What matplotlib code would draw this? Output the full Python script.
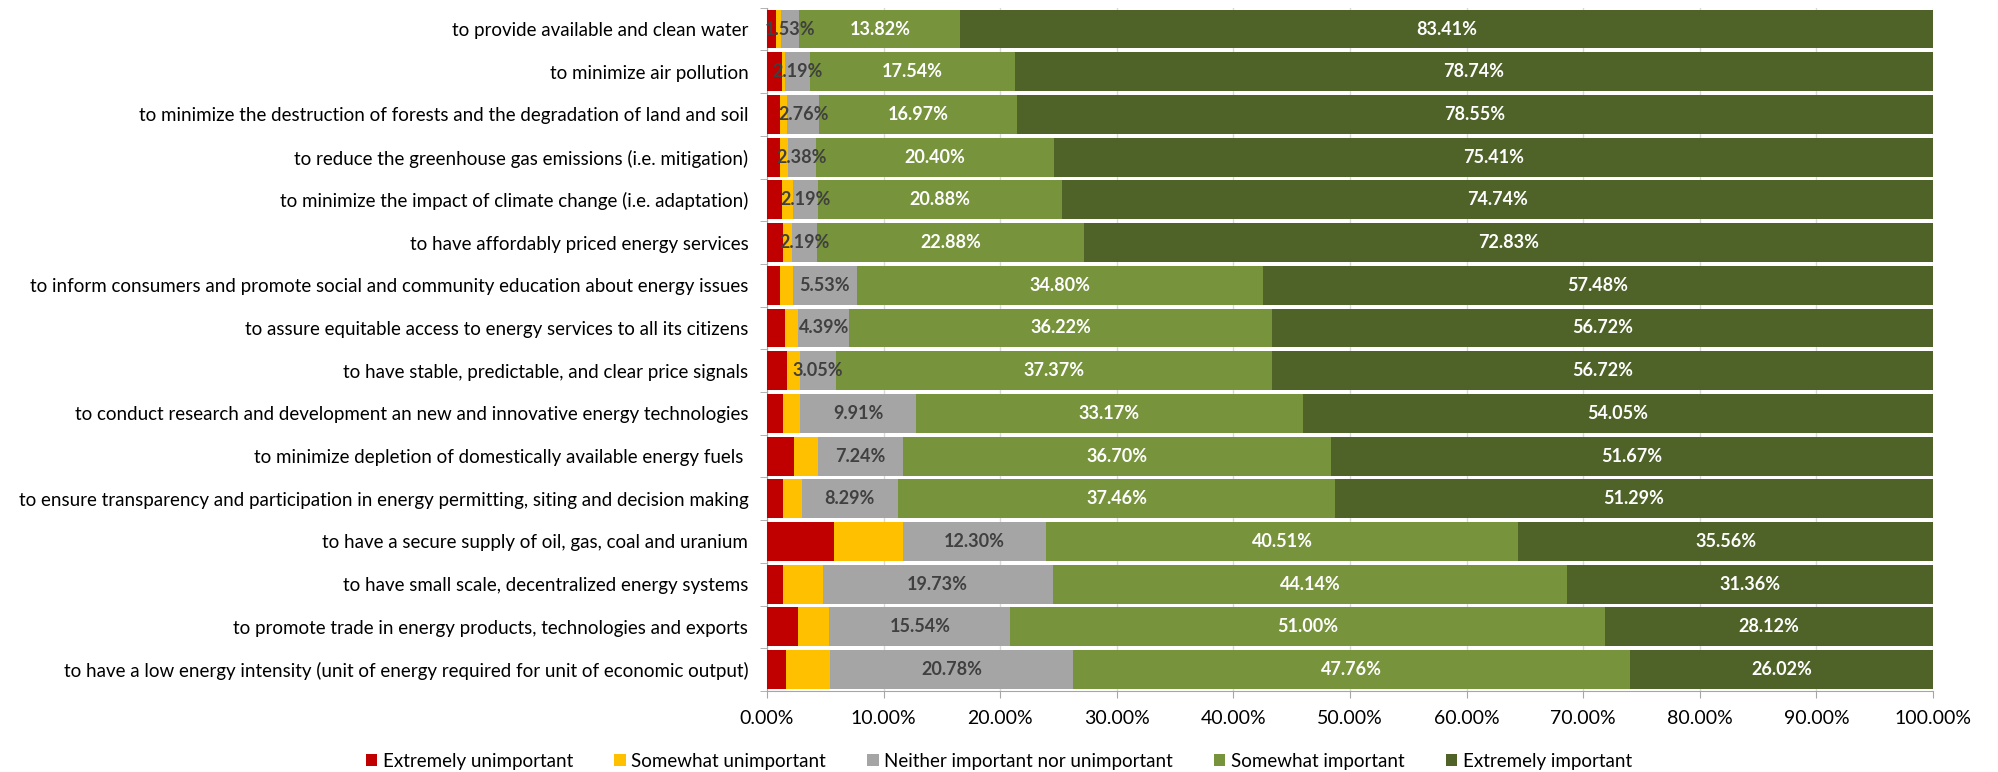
"""
Importance ratings of energy policy goals, stacked 100% horizontal bars.
Output: out.png
"""

import matplotlib.pyplot as plt
from matplotlib.patches import Patch
import numpy as np

plt.rcParams['font.family'] = ['Lato', 'DejaVu Sans']

# categories, listed top to bottom as in the chart
goals = [
    'to provide available and clean water',
    'to minimize air pollution',
    'to minimize the destruction of forests and the degradation of land and soil',
    'to reduce the greenhouse gas emissions (i.e. mitigation)',
    'to minimize the impact of climate change (i.e. adaptation)',
    'to have affordably priced energy services',
    'to inform consumers and promote social and community education about energy issues',
    'to assure equitable access to energy services to all its citizens',
    'to have stable, predictable, and clear price signals',
    'to conduct research and development an new and innovative energy technologies',
    'to minimize depletion of domestically available energy fuels ',
    'to ensure transparency and participation in energy permitting, siting and decision making',
    'to have a secure supply of oil, gas, coal and uranium',
    'to have small scale, decentralized energy systems',
    'to promote trade in energy products, technologies and exports',
    'to have a low energy intensity (unit of energy required for unit of economic output)',
]

# shares in percent (red/yellow, others labelled)
extremely_unimportant = [0.76, 1.25, 1.14, 1.10, 1.26, 1.40, 1.09, 1.50,
                         1.70, 1.38, 2.33, 1.33, 5.73, 1.40, 2.67, 1.66]
somewhat_unimportant = [0.48, 0.28, 0.58, 0.71, 0.93, 0.70, 1.10, 1.17,
                        1.16, 1.49, 2.06, 1.63, 5.90, 3.37, 2.67, 3.78]
neither = [1.53, 2.19, 2.76, 2.38, 2.19, 2.19, 5.53, 4.39,
           3.05, 9.91, 7.24, 8.29, 12.30, 19.73, 15.54, 20.78]
somewhat_important = [13.82, 17.54, 16.97, 20.40, 20.88, 22.88, 34.80, 36.22,
                      37.37, 33.17, 36.70, 37.46, 40.51, 44.14, 51.00, 47.76]
extremely_important = [83.41, 78.74, 78.55, 75.41, 74.74, 72.83, 57.48, 56.72,
                       56.72, 54.05, 51.67, 51.29, 35.56, 31.36, 28.12, 26.02]

series_names = ['Extremely unimportant', 'Somewhat unimportant',
                'Neither important nor unimportant', 'Somewhat important',
                'Extremely important']
series = [extremely_unimportant, somewhat_unimportant, neither,
          somewhat_important, extremely_important]
colors = ['#C00000', '#FFC000', '#A5A5A5', '#77933C', '#4F6228']
# which series get value labels, and in what colour
label_colors = [None, None, '#404040', 'white', 'white']

fig = plt.figure(figsize=(19.98, 7.72), dpi=100)
ax = fig.add_axes([0.3839, 0.105, 0.5836, 0.885])

y = np.arange(len(goals))
left = np.zeros(len(goals))
for vals, name, col, lcol in zip(series, series_names, colors, label_colors):
    vals = np.array(vals)
    ax.barh(y, vals, left=left, height=0.91, color=col, label=name, zorder=3)
    if lcol is not None:
        for yi, l, v in zip(y, left, vals):
            ax.text(l + v / 2, yi, f'{v:.2f}%', ha='center', va='center',
                    color=lcol, fontsize=13, fontweight='bold', zorder=4)
    left += vals

ax.set_xlim(0, 100)
ax.set_ylim(len(goals) - 0.5, -0.5)
ax.set_xticks(np.arange(0, 101, 10))
ax.set_xticklabels([f'{t:.2f}%' for t in range(0, 101, 10)], fontsize=14)
ax.set_yticks(y)
ax.set_yticklabels(goals, fontsize=13.5)
ax.set_yticks(np.arange(-0.5, len(goals), 1), minor=True)
ax.tick_params(axis='y', which='major', length=0, pad=13.5)
ax.tick_params(axis='y', which='minor', length=5, color='#A6A6A6')
ax.tick_params(axis='x', length=5, color='#A6A6A6', pad=9)

ax.grid(axis='x', color='#D9D9D9', linewidth=1, zorder=0)
for s in ['top', 'right']:
    ax.spines[s].set_visible(False)
for s in ['left', 'bottom']:
    ax.spines[s].set_color('#A6A6A6')

handles = [Patch(facecolor=c, label=n) for c, n in zip(colors, series_names)]
fig.legend(handles=handles, loc='center', bbox_to_anchor=(0.5, 0.0142),
           ncol=5, frameon=False, fontsize=13.5, handlelength=0.6,
           handleheight=0.6, handletextpad=0.3, columnspacing=2.2)

fig.savefig('out.png', dpi=100)
